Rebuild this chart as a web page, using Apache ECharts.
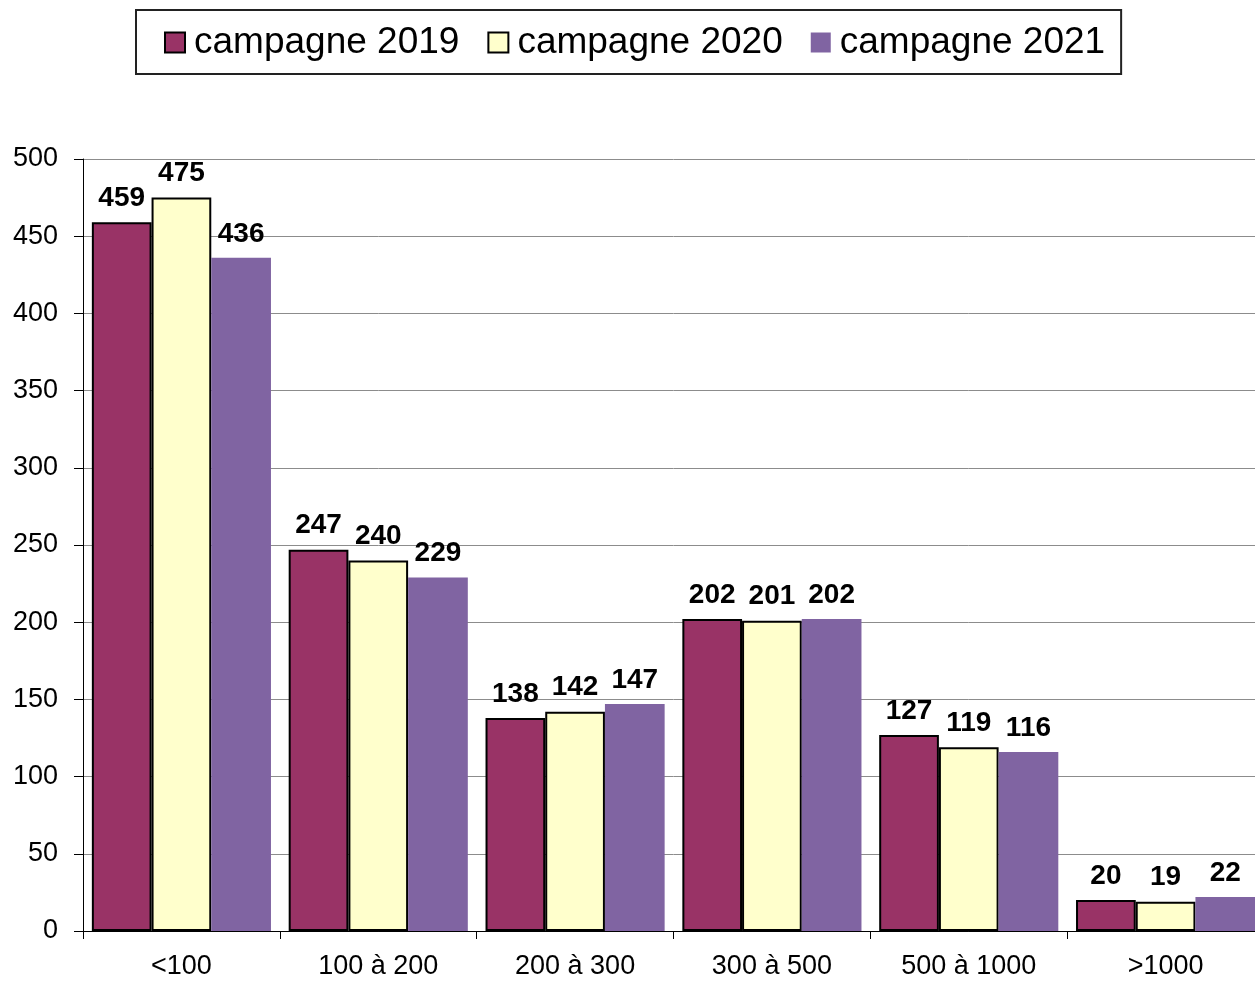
<!DOCTYPE html>
<html>
<head>
<meta charset="utf-8">
<script src="https://cdn.jsdelivr.net/npm/echarts@6/dist/echarts.min.js"></script>
<style>
html,body{margin:0;padding:0;background:#fff;overflow:hidden;}
#chart{width:1264px;height:981px;}
</style>
</head>
<body>
<div id="chart"></div>
<script>
var categories = ['<100', '100 à 200', '200 à 300', '300 à 500', '500 à 1000', '>1000'];
var seriesNames = ['campagne 2019', 'campagne 2020', 'campagne 2021'];
var values2019 = [459, 247, 138, 202, 127, 20];
var values2020 = [475, 240, 142, 201, 119, 19];
var values2021 = [436, 229, 147, 202, 116, 22];
var yTicks = [0, 50, 100, 150, 200, 250, 300, 350, 400, 450, 500];

var colors = ['#993366', '#FFFFCC', '#8064A2'];
var font = '"Liberation Sans", Arial, sans-serif';

function mkSeries(name, data, color, border) {
  return {
    name: name,
    type: 'bar',
    data: data,
    barGap: '0%',
    barCategoryGap: '9%',
    itemStyle: {
      color: color,
      borderColor: border ? '#000' : color,
      borderWidth: border ? 2 : 0
    },
    label: {
      show: true,
      position: 'top',
      distance: 10,
      color: '#000',
      fontFamily: font,
      fontWeight: 'bold',
      fontSize: 28
    }
  };
}

var chart = echarts.init(document.getElementById('chart'), null, {renderer: 'canvas'});
chart.setOption({
  backgroundColor: '#fff',
  animation: false,
  textStyle: {fontFamily: font},
  legend: {
    data: seriesNames.map(function (n) { return {name: n, icon: 'rect'}; }),
    left: 136,
    top: 10,
    padding: [14, 16, 13, 28],
    itemWidth: 20,
    itemHeight: 20,
    itemGap: 28,
    borderColor: '#222',
    borderWidth: 2,
    textStyle: {fontSize: 37, color: '#000', fontFamily: font, padding: [0, 0, 0, 4]}
  },
  grid: {
    left: 83,
    top: 159,
    bottom: 50,
    right: 0,
    containLabel: false
  },
  xAxis: {
    type: 'category',
    data: categories,
    axisLine: {lineStyle: {color: '#000', width: 1}},
    axisTick: {show: true, length: 8, lineStyle: {color: '#000'}},
    axisLabel: {fontSize: 27, color: '#000', margin: 22, fontFamily: font},
    splitLine: {show: false}
  },
  yAxis: {
    type: 'value',
    min: yTicks[0],
    max: yTicks[yTicks.length - 1],
    interval: yTicks[1] - yTicks[0],
    axisLine: {show: true, lineStyle: {color: '#000', width: 1}},
    axisTick: {show: true, length: 9, lineStyle: {color: '#000'}},
    axisLabel: {fontSize: 27, color: '#000', margin: 25, fontFamily: font},
    splitLine: {show: true, lineStyle: {color: '#8c8c8c', width: 1}}
  },
  series: [
    mkSeries(seriesNames[0], values2019, colors[0], true),
    mkSeries(seriesNames[1], values2020, colors[1], true),
    mkSeries(seriesNames[2], values2021, colors[2], false)
  ]
});
</script>
</body>
</html>
